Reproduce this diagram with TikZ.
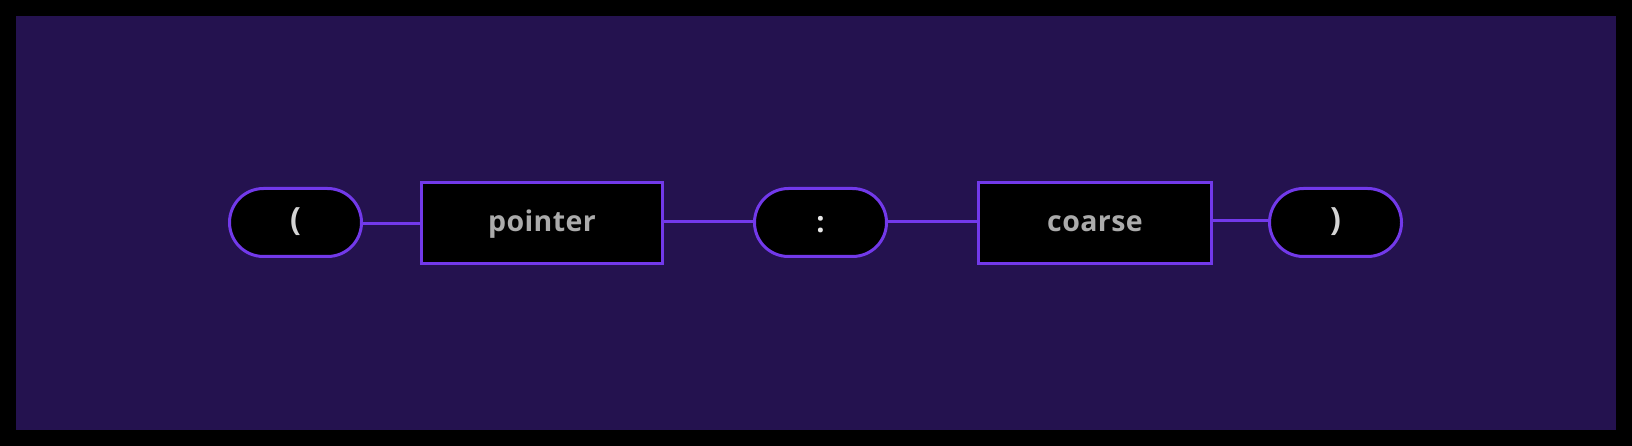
\documentclass[tikz,border=0pt]{standalone}
\usepackage{fontspec}
\setmainfont{Open Sans}
\newfontfamily\wordfont[LetterSpace=1.5]{Open Sans}
\newfontfamily\symfont{Open Sans}
\definecolor{bgpurple}{HTML}{24124F}
\definecolor{edge}{HTML}{7239EA}
\definecolor{wordgray}{HTML}{ABABAB}
\definecolor{symgray}{HTML}{D4D4D4}
\definecolor{colonwhite}{HTML}{E8E8E8}
\tikzset{
  pill/.style={draw=edge, fill=black, line width=3pt, rectangle, rounded corners=34pt,
    minimum width=132pt, minimum height=68pt, inner sep=0pt, text=symgray,
    font=\symfont\bfseries\fontsize{32}{32}\selectfont, text depth=0pt, text height=16pt},
  termbox/.style={draw=edge, fill=black, line width=3pt, rectangle,
    minimum height=81pt, inner sep=0pt, text=wordgray,
    font=\wordfont\bfseries\fontsize{28.5}{29}\selectfont, text depth=0pt, text height=18pt},
  link/.style={draw=edge, line width=3pt}
}
\begin{document}
\begin{tikzpicture}[x=1pt,y=-1pt]
\fill[black] (0,0) rectangle (1632,446);
\fill[bgpurple] (16,16) rectangle (1616,430);
\useasboundingbox (0,0) rectangle (1632,446);
\node[pill] (lp) at (295.5,222.5) {(};
\node[termbox, minimum width=241pt] (ptr) at (542,223) {pointer};
\node[pill, text=colonwhite, font=\symfont\bfseries\fontsize{29}{29}\selectfont, text height=20pt] (col) at (820.5,222.5) {:};
\node[termbox, minimum width=233pt] (crs) at (1095,223) {coarse};
\node[pill] (rp) at (1335.5,222.5) {)};
\draw[link] (lp.east |- 0,224) -- (ptr.west |- 0,224);
\draw[link] (ptr.east |- 0,222) -- (col.west |- 0,222);
\draw[link] (col.east |- 0,222) -- (crs.west |- 0,222);
\draw[link] (crs.east |- 0,221) -- (rp.west |- 0,221);
\end{tikzpicture}
\end{document}
